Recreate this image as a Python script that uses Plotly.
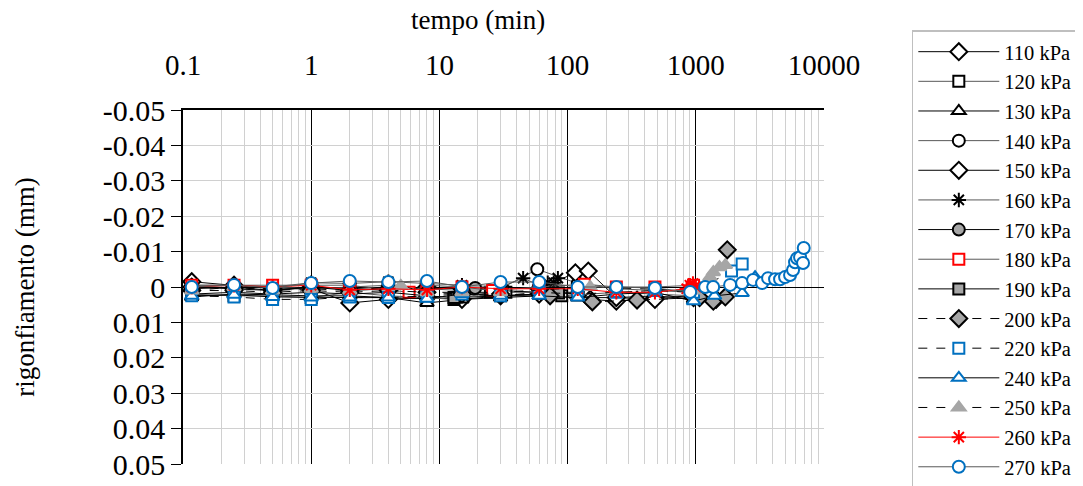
import plotly.graph_objects as go

# ---------------- data (time in min, swelling in mm) ----------------
names = ["110 kPa", "120 kPa", "130 kPa", "140 kPa", "150 kPa", "160 kPa", "170 kPa",
         "180 kPa", "190 kPa", "200 kPa", "220 kPa", "240 kPa", "250 kPa", "260 kPa", "270 kPa"]

t_110 = [0.117, 0.25, 0.5, 1, 2, 4, 8, 15, 30, 60, 150, 240, 480, 960, 1440]
v_110 = [-0.0015, -0.0005, 0.0005, 0.0005, 0.0045, 0.0035, 0.003, 0.0035, 0.0025, 0.002, 0.0035, 0.004, 0.003, 0.0025, 0.0035]

t_120 = [0.117, 0.25, 0.5, 1, 2, 4, 8, 13, 25, 33, 70, 90, 240, 480, 960]
v_120 = [0.002, 0.0025, 0.0025, 0.003, 0.0015, 0.0025, 0.003, 0.0035, 0.0015, 0.0015, 0.0015, 0.0025, 0.0015, 0.002, 0.0025]

t_130 = [0.117, 0.25, 0.5, 1, 2, 4, 8, 15, 30, 60, 120, 240, 480, 960, 1440]
v_130 = [0.0028, 0.002, 0.0022, 0.0025, 0.0025, 0.003, 0.0045, 0.0035, 0.003, 0.0025, 0.003, 0.003, 0.0025, 0.0035, 0.003]

t_140 = [0.117, 0.25, 0.5, 1, 2, 4, 8, 15, 30, 58, 120, 240, 480, 960]
v_140 = [0.0, -0.0005, 0.0, 0.0005, 0.0, -0.0005, 0.0005, 0.001, 0.0005, -0.005, -0.001, 0.0005, 0.001, 0.0015]

t_150 = [0.117, 0.25, 0.5, 1, 2, 4, 8, 15, 30, 60, 115, 145, 240, 480, 960]
v_150 = [0.0, 0.0005, 0.001, 0.0, 0.001, 0.0005, 0.0, 0.0005, 0.0, 0.0005, -0.004, -0.0045, 0.003, 0.0035, 0.003]

t_160 = [0.117, 0.25, 0.5, 1, 2, 4, 8, 15, 30, 45, 60, 70, 78, 84]
v_160 = [-0.0005, -0.0005, 0.0, -0.0012, -0.001, -0.0015, -0.001, -0.0005, 0.0, -0.0025, -0.0005, -0.0012, -0.0012, -0.0025]

t_170 = [0.117, 0.25, 0.5, 1, 2, 4, 8, 19, 30, 60, 120]
v_170 = [0.0005, 0.0, 0.001, 0.0, 0.0005, 0.0, 0.0005, 0.0003, 0.001, 0.0015, 0.0015]

t_180 = [0.117, 0.25, 0.5, 1, 2, 5.8, 8, 15, 26, 60, 135, 240, 480, 960]
v_180 = [-0.0005, -0.0005, -0.0005, -0.0005, -0.0005, 0.0015, -0.0005, 0.0, 0.001, 0.0, -0.0008, 0.0, 0.0, -0.0005]

t_190 = [0.117, 0.25, 0.5, 1, 2, 4, 8, 13, 30, 85, 120]
v_190 = [0.002, 0.0015, 0.002, 0.0015, 0.002, 0.0015, 0.0025, 0.003, 0.0025, 0.0017, 0.002]

t_200 = [0.117, 0.25, 0.5, 1, 2, 4, 8, 15, 30, 73, 156, 348, 1070, 1370, 1700, 1760]
v_200 = [0.001, 0.001, 0.0015, 0.001, 0.0015, 0.001, 0.0015, 0.002, 0.002, 0.0025, 0.0042, 0.0037, 0.003, 0.004, 0.0028, -0.0105]

t_220 = [0.117, 0.25, 0.5, 1, 2, 4, 8, 15, 30, 60, 120, 240, 480, 960, 1900, 2300]
v_220 = [0.0025, 0.0028, 0.0035, 0.0035, 0.0028, 0.003, 0.0025, 0.002, 0.0025, 0.0015, 0.002, 0.0015, 0.001, 0.0015, -0.0045, -0.0065]

t_240 = [0.117, 0.25, 0.5, 1, 2, 4, 8, 15, 30, 60, 120, 240, 480, 960, 1400, 2300, 2900]
v_240 = [0.0025, 0.0022, 0.0028, 0.003, 0.003, 0.003, 0.0033, 0.002, 0.0025, 0.0025, 0.003, 0.002, 0.0015, 0.004, 0.0025, 0.0017, -0.0028]

t_250 = [0.117, 0.25, 0.5, 1, 2, 5, 8, 15, 30, 150, 960, 1290, 1370, 1530, 1700]
v_250 = [0.001, 0.0, 0.001, 0.0005, 0.001, -0.0003, 0.0015, 0.0015, 0.0015, 0.0, 0.001, -0.0028, -0.0042, -0.0056, -0.0062]

t_260 = [0.117, 0.25, 0.5, 1, 2, 4, 8, 15, 30, 60, 120, 240, 480, 850, 900, 950, 1000]
v_260 = [0.0, -0.0005, 0.0, -0.0005, 0.0008, 0.0005, 0.0008, 0.0, 0.0005, 0.0005, 0.0005, 0.0015, 0.0015, 0.0005, -0.0005, -0.001, 0.0]

t_270 = [0.117, 0.25, 0.5, 1, 2, 4, 8, 15, 30, 60, 120, 240, 480, 904, 1183, 1366, 1852,
         2297, 2798, 3289, 3664, 4153, 4543, 4970, 5436, 5737, 5944, 6165, 6506, 6862, 6950]
v_270 = [0.0, -0.0006, 0.0003, -0.0011, -0.0017, -0.0014, -0.0017, 0.0, -0.0014, -0.0014, 0.0, 0.0, 0.0003,
         0.0014, 0.0, 0.0, -0.0006, -0.0011, -0.002, -0.0011, -0.0025, -0.0022, -0.0022, -0.0028, -0.0034,
         -0.0048, -0.007, -0.0081, -0.0084, -0.0068, -0.011]

times = [t_110, t_120, t_130, t_140, t_150, t_160, t_170, t_180, t_190, t_200, t_220, t_240, t_250, t_260, t_270]
values = [v_110, v_120, v_130, v_140, v_150, v_160, v_170, v_180, v_190, v_200, v_220, v_240, v_250, v_260, v_270]

x_ticks = [0.1, 1, 10, 100, 1000, 10000]
x_ticklabels = ["0.1", "1", "10", "100", "1000", "10000"]
y_ticks = [-0.05, -0.04, -0.03, -0.02, -0.01, 0, 0.01, 0.02, 0.03, 0.04, 0.05]
y_ticklabels = ["-0.05", "-0.04", "-0.03", "-0.02", "-0.01", "0", "0.01", "0.02", "0.03", "0.04", "0.05"]

# ---------------- styles ----------------
BLUE = "#0070C0"
RED = "#FF0000"
GREY = "#A6A6A6"
DG = "#595959"
styles = [
    # symbol, fill, edge, size, line colour, dash
    ("diamond", "white", "black", 13, "black", "solid"),
    ("square", "white", "black", 11, DG, "solid"),
    ("triangle-up", "white", "black", 12, "black", "solid"),
    ("circle", "white", "black", 12, DG, "solid"),
    ("diamond", "white", "black", 13, "black", "solid"),
    ("asterisk", "black", "black", 12, DG, "solid"),
    ("circle", GREY, "black", 12, "black", "solid"),
    ("square", "white", RED, 11, DG, "solid"),
    ("square", GREY, "black", 11, "black", "solid"),
    ("diamond", GREY, "black", 13, "black", "dash"),
    ("square", "white", BLUE, 11, "black", "dash"),
    ("triangle-up", "white", BLUE, 12, "black", "solid"),
    ("triangle-up", GREY, GREY, 12, "black", "dash"),
    ("asterisk", RED, RED, 12, RED, "solid"),
    ("circle", "white", BLUE, 12, DG, "solid"),
]

fig = go.Figure()
for name, t, v, st in zip(names, times, values, styles):
    sym, fill, edge, size, lc, dash = st
    fig.add_trace(go.Scatter(
        x=t, y=v, name=name, mode="lines+markers", legendgroup=name,
        line=dict(color=lc, width=1, dash=dash),
        marker=dict(symbol=sym, size=size, color=fill, line=dict(color=edge, width=2)),
    ))

FONT = "Liberation Serif"
fig.update_layout(
    width=1083, height=486,
    margin=dict(l=175, r=267, t=102, b=30, autoexpand=False),
    plot_bgcolor="white", paper_bgcolor="white",
    font=dict(family=FONT, color="black"),
    showlegend=True,
    legend=dict(x=1.137, y=1.225, xanchor="left", yanchor="top",
                bordercolor="#BFBFBF", borderwidth=1.5, maxheight=1000,
                font=dict(family=FONT, size=20.5, color="black"),
                traceorder="grouped", tracegroupgap=0, itemwidth=81),
    annotations=[dict(text="tempo (min)", x=0.46, y=1.255, xref="paper", yref="paper",
                      xanchor="center", yanchor="middle", showarrow=False,
                      font=dict(family=FONT, size=27, color="black"))],
)
fig.update_xaxes(
    type="log", range=[-1, 4], side="top", automargin=False,
    tickmode="array", tickvals=x_ticks, ticktext=x_ticklabels,
    tickfont=dict(family=FONT, size=29), ticks="", ticklabelstandoff=22,
    showline=True, linecolor="black", linewidth=1.5,
    showgrid=True, gridcolor="black", gridwidth=1,
    minor=dict(dtick="D1", showgrid=True, gridcolor="#D0D0D0", gridwidth=1, ticks=""),
    zeroline=False,
)
fig.update_yaxes(
    range=[0.05, -0.05], automargin=False,
    tickmode="array", tickvals=y_ticks, ticktext=y_ticklabels,
    tickfont=dict(family=FONT, size=30), ticks="outside", ticklen=10, tickcolor="black",
    showline=True, linecolor="black", linewidth=1.5,
    showgrid=True, gridcolor="#D0D0D0", gridwidth=1,
    zeroline=True, zerolinecolor="black", zerolinewidth=1,
    title=dict(text="rigonfiamento (mm)", font=dict(family=FONT, size=27), standoff=60),
)

fig.write_html("out.html")
